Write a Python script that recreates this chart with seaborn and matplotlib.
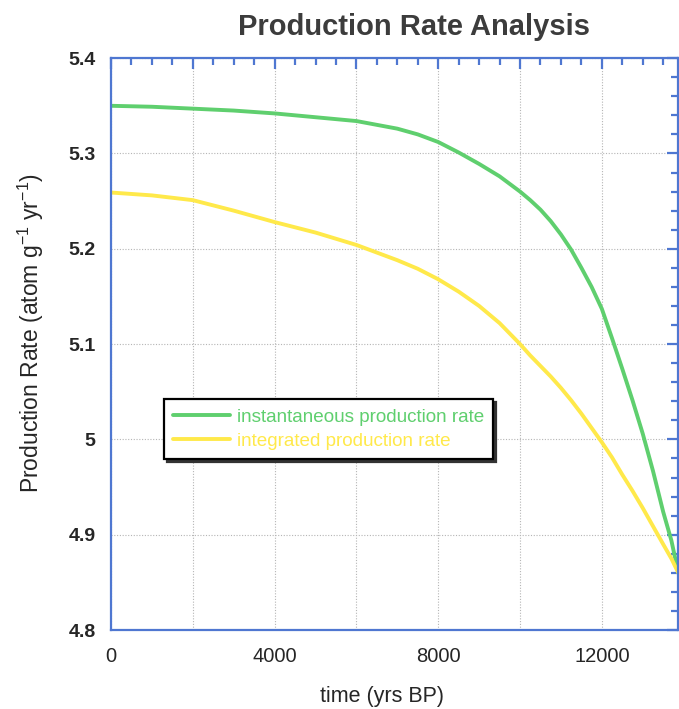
import numpy as np
import pandas as pd
import matplotlib
matplotlib.use("Agg")
import matplotlib.pyplot as plt
from matplotlib.ticker import MultipleLocator, FixedLocator
import seaborn as sns

# values
time_yrs = [0, 1000, 2000, 3000, 4000, 5000, 6000, 7000, 7500, 8000, 8500, 9000, 9500,
            10000, 10250, 10500, 10750, 11000, 11250, 11500, 11750, 12000, 12250,
            12500, 12750, 13000, 13250, 13500, 13700, 13870]
instantaneous = [5.350, 5.349, 5.347, 5.345, 5.342, 5.338, 5.334, 5.326, 5.320, 5.312, 5.301, 5.289, 5.276,
                 5.260, 5.251, 5.241, 5.229, 5.215, 5.199, 5.180, 5.160, 5.137, 5.106,
                 5.074, 5.041, 5.006, 4.967, 4.924, 4.894, 4.860]
integrated = [5.259, 5.256, 5.251, 5.240, 5.228, 5.217, 5.204, 5.188, 5.179, 5.168, 5.155, 5.140, 5.122,
              5.100, 5.088, 5.077, 5.066, 5.054, 5.041, 5.027, 5.012, 4.997, 4.981,
              4.963, 4.946, 4.928, 4.909, 4.890, 4.875, 4.860]
series_names = ["instantaneous production rate", "integrated production rate"]

xtick_values = [0, 2000, 4000, 6000, 8000, 10000, 12000]
xtick_labels = ["0", "", "4000", "", "8000", "", "12000"]
ytick_values = [4.8, 4.9, 5.0, 5.1, 5.2, 5.3, 5.4]
ytick_labels = ["4.8", "4.9", "5", "5.1", "5.2", "5.3", "5.4"]

sns.set_style("white")
plt.rcParams['font.family'] = ['Liberation Sans', 'DejaVu Sans']
plt.rcParams['mathtext.default'] = 'regular'

blue = "#4f77d1"
green = "#5fcf6e"
yellow = "#ffe94a"

df = pd.DataFrame({"time": time_yrs * 2,
                   "rate": instantaneous + integrated,
                   "series": [series_names[0]] * len(time_yrs) + [series_names[1]] * len(time_yrs)})

fig = plt.figure(figsize=(6.79, 7.09), dpi=100)
ax = fig.add_axes([0.1635, 0.1114, 0.8355, 0.8066])

sns.lineplot(data=df, x="time", y="rate", hue="series", palette=[green, yellow],
             linewidth=2.8, ax=ax)

ax.set_xlim(0, 13870)
ax.set_ylim(4.8, 5.4)

ax.xaxis.set_major_locator(FixedLocator(xtick_values))
ax.set_xticklabels(xtick_labels)
ax.xaxis.set_minor_locator(MultipleLocator(500))
ax.set_yticks(ytick_values)
ax.set_yticklabels(ytick_labels, fontweight="bold")
ax.yaxis.set_minor_locator(MultipleLocator(0.02))

ax.tick_params(axis="both", which="both", direction="in", color=blue,
               top=True, right=True, width=1.6)
ax.tick_params(axis="both", which="major", length=8)
ax.tick_params(axis="both", which="minor", length=5)
ax.tick_params(axis="x", labelsize=14.5, pad=12)
ax.tick_params(axis="y", labelsize=14, pad=11)

for s in ax.spines.values():
    s.set_color(blue)
    s.set_linewidth(1.6)

ax.grid(True, which="major", color="#b5b5b5", linestyle=(0, (1, 1.5)), linewidth=0.8)
ax.set_axisbelow(True)

ax.set_xlabel("time (yrs BP)", fontsize=15.5)
ax.xaxis.set_label_coords(0.477, -0.098)
ax.set_ylabel("Production Rate (atom g$^{-1}$ yr$^{-1}$)", fontsize=16.5)
ax.yaxis.set_label_coords(-0.114, 0.52)

fig.text(0.61, 0.962, "Production Rate Analysis", fontsize=21, fontweight="bold",
         color="#3c3c3c", ha="center", va="center")

leg = ax.legend(loc="upper left", bbox_to_anchor=(164 / 679, 1 - 399 / 709),
                bbox_transform=fig.transFigure, fontsize=13.6, labelcolor="linecolor",
                handlelength=3.0, handletextpad=0.35, borderpad=0.5, labelspacing=0.35,
                borderaxespad=0, fancybox=False, framealpha=1,
                shadow={"facecolor": "#333333", "edgecolor": "#333333", "alpha": 1})
leg.get_frame().set_edgecolor("black")
leg.get_frame().set_linewidth(1.6)

fig.savefig("out.png", dpi=100)
